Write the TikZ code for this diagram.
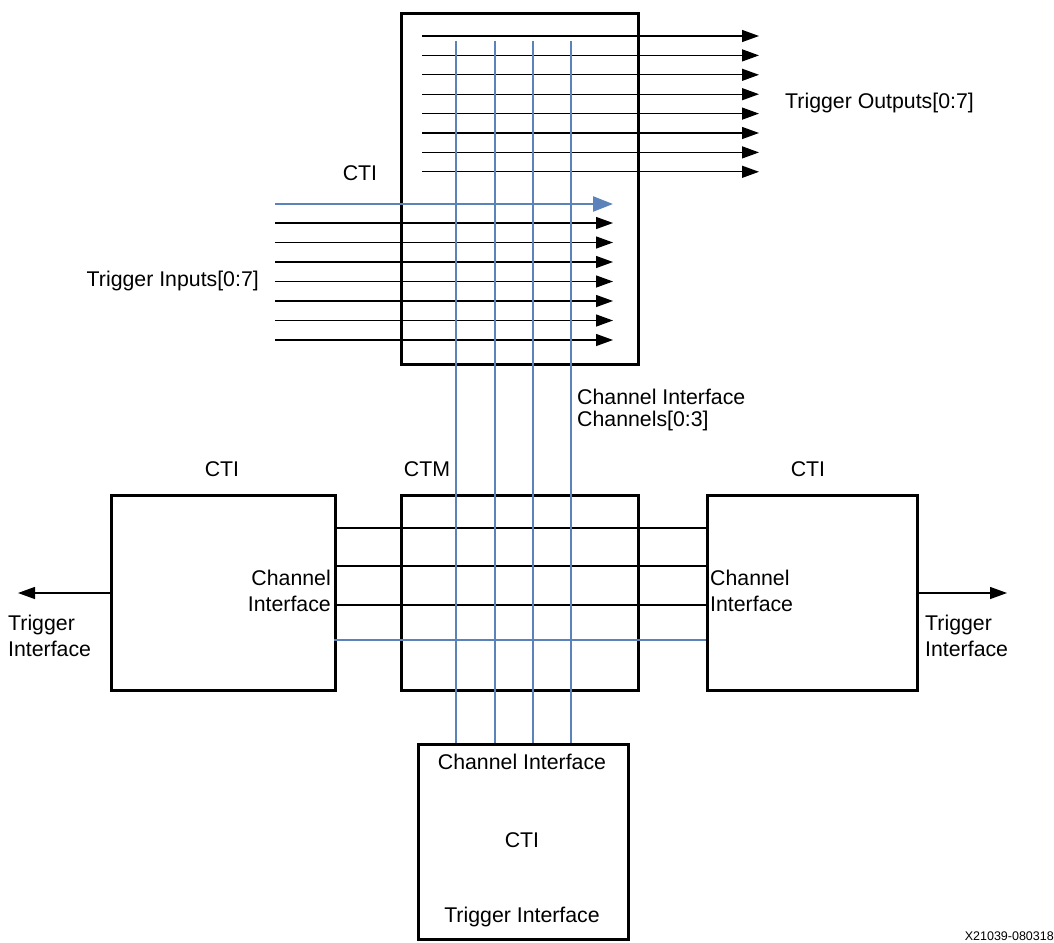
\documentclass[tikz,border=0pt]{standalone}
\usepackage{fontspec}
\setmainfont{Liberation Sans}
\usetikzlibrary{arrows.meta}
\definecolor{chblue}{RGB}{91,131,186}
\begin{document}
\begin{tikzpicture}[x=1pt,y=-1pt,
  box/.style={draw,line width=2.6pt,inner sep=0pt,anchor=north west},
  lbl/.style={inner sep=0pt,font=\fontsize{21.3}{26}\selectfont},
  sig/.style={line width=1.3pt},
  sigarrow/.style={line width=1.3pt,-{Triangle[length=17pt,width=12pt]}},
  bluesig/.style={chblue,line width=2.4pt},
  bluearrow/.style={chblue,line width=2.4pt,-{Triangle[length=20pt,width=15pt]}}]
\useasboundingbox (0,0) rectangle (1054,942);

% boxes
\node[box,minimum width=237pt,minimum height=351pt] (ctitop) at (400,12) {};
\node[box,minimum width=224pt,minimum height=195pt] (ctileft) at (110,494) {};
\node[box,minimum width=237pt,minimum height=195pt] (ctm) at (400,494) {};
\node[box,minimum width=210pt,minimum height=195pt] (ctiright) at (706,494) {};
\node[box,minimum width=210pt,minimum height=195pt] (ctibot) at (417,743) {};

% trigger outputs
\foreach \i in {0,...,7} {
  \coordinate (os\i) at (422,36+\i*19.4);
  \coordinate (oe\i) at (759,36+\i*19.4);
  \draw[sigarrow] (os\i) -- (oe\i);
}
% trigger inputs
\coordinate (bis) at (275,204);
\coordinate (bie) at (613,204);
\draw[bluearrow] (bis) -- (bie);
\foreach \i in {0,...,6} {
  \coordinate (is\i) at (275,223+\i*19.5);
  \coordinate (ie\i) at (613,223+\i*19.5);
  \draw[sigarrow] (is\i) -- (ie\i);
}

% middle horizontal channel lines
\foreach \i/\y in {1/528,2/566,3/605} {
  \coordinate (hl\i) at (334,\y);
  \coordinate (hr\i) at (706,\y);
  \draw[sig] (hl\i) -- (hr\i);
}
\coordinate (hl4) at (334,640);
\coordinate (hr4) at (706,640);
\draw[bluesig] (hl4) -- (hr4);

% vertical channel lines
\foreach \i/\x in {1/456,2/495,3/533,4/571} {
  \coordinate (vt\i) at (\x,41);
  \coordinate (vb\i) at (\x,743);
  \draw[bluesig] (vt\i) -- (vb\i);
}

% trigger interface arrows
\coordinate (tl) at (18,593);
\coordinate (tr) at (1007,593);
\draw[sigarrow] (ctileft.west |- tl) -- (tl);
\draw[sigarrow] (ctiright.east |- tr) -- (tr);

% labels
\node[lbl,anchor=west] (tout) at (785,103) {Trigger Outputs[0:7]};
\node[lbl,anchor=east] (tin) at (259,281) {Trigger Inputs[0:7]};
\node[lbl] (ctitoplbl) at (360,173) {CTI};
\node[lbl,anchor=west,align=left,font=\fontsize{21.3}{22}\selectfont] (chlbl) at (577,410) {Channel Interface\\Channels[0:3]};
\node[lbl] (ctileftlbl) at (222,469) {CTI};
\node[lbl] (ctmlbl) at (427,469) {CTM};
\node[lbl] (ctirightlbl) at (808,469) {CTI};
\node[lbl,anchor=east,align=right] (chl) at (331,591) {Channel\\Interface};
\node[lbl,anchor=west,align=left] (chr) at (710,591) {Channel\\Interface};
\node[lbl,anchor=west,align=left] (til) at (8,636) {Trigger\\Interface};
\node[lbl,anchor=west,align=left] (tir) at (925,636) {Trigger\\Interface};
\node[lbl] (bch) at (522,762) {Channel Interface};
\node[lbl] (bcti) at (522,840) {CTI};
\node[lbl] (btr) at (522,917) {Trigger Interface};
\node[inner sep=0pt,anchor=south east,font=\fontsize{12.5}{14}\selectfont] (fig) at (1054,941) {X21039-080318};
\end{tikzpicture}
\end{document}
